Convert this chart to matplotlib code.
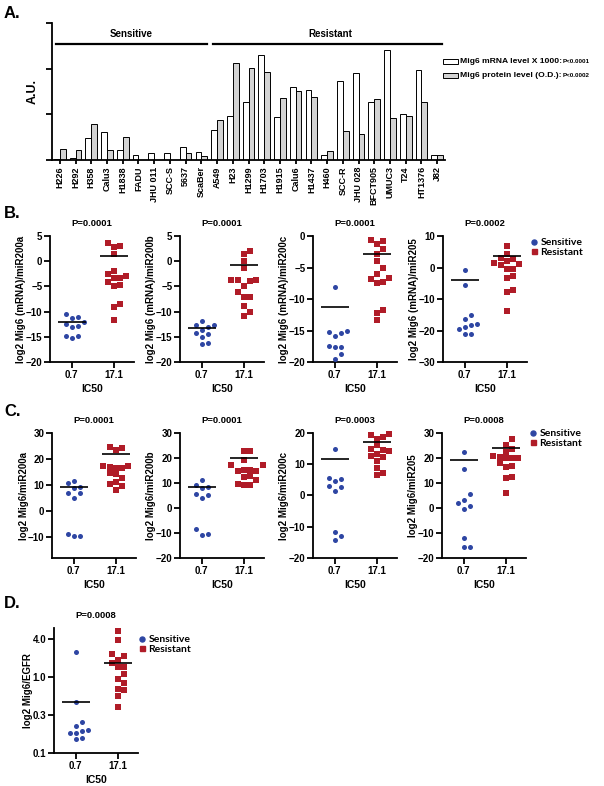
import numpy as np
import matplotlib
matplotlib.use("Agg")
import matplotlib.pyplot as plt
from matplotlib.patches import Rectangle
from matplotlib.lines import Line2D

plt.rcParams['font.family'] = ['Liberation Sans', 'DejaVu Sans']
plt.rcParams['font.weight'] = 'bold'
plt.rcParams['axes.titleweight'] = 'bold'
plt.rcParams['axes.labelweight'] = 'bold'

# ---------------- data ----------------
cell_lines = ['H226', 'H292', 'H358', 'Calu3', 'H1838', 'FADU', 'JHU 011', 'SCC-S', '5637', 'ScaBer',
              'A549', 'H23', 'H1299', 'H1703', 'H1915', 'Calu6', 'H1437', 'H460', 'SCC-R', 'JHU 028',
              'BFCT905', 'UMUC3', 'T24', 'HT1376', 'J82']
mrna = [0.02, 0.04, 0.48, 0.61, 0.22, 0.11, 0.15, 0.16, 0.28, 0.18,
        0.65, 0.96, 1.27, 2.31, 0.94, 1.59, 1.53, 0.12, 1.73, 1.90,
        1.26, 2.41, 1.00, 1.96, 0.12]
protein = [0.25, 0.22, 0.79, 0.22, 0.50, 0.0, 0.0, 0.0, 0.15, 0.09,
           0.88, 2.13, 2.02, 1.93, 1.35, 1.51, 1.38, 0.19, 0.64, 0.58,
           1.33, 0.92, 0.97, 1.27, 0.11]

groups = ['0.7', '17.1']

b_sens = [
    [-10.4, -11.1, -11.3, -12.1, -12.5, -12.9, -13.1, -14.8, -14.8, -15.2],
    [-11.9, -12.6, -12.6, -13.1, -13.6, -14.3, -14.5, -15.0, -16.2, -16.4],
    [-8.1, -15.1, -15.3, -15.4, -15.9, -17.4, -17.6, -17.6, -18.7, -19.6],
    [-0.9, -5.7, -15.0, -16.5, -18.0, -18.1, -18.9, -19.6, -21.2, -21.2],
]
b_res = [
    [3.6, 2.95, 2.8, 1.5, -2.0, -2.5, -2.9, -3.3, -3.3, -4.1, -4.8, -4.9, -8.4, -9.1, -11.6],
    [1.96, 1.5, 0.0, -1.35, -3.7, -3.8, -3.8, -4.0, -4.9, -6.2, -7.1, -7.1, -8.8, -10.1, -10.9],
    [-0.7, -0.85, -1.3, -2.0, -2.8, -3.9, -5.0, -6.0, -6.6, -6.8, -7.35, -7.5, -11.7, -12.2, -13.3],
    [6.8, 4.2, 3.0, 2.6, 2.2, 1.4, 0.7, -0.5, -0.5, -2.7, -3.2, -7.2, -7.8, -13.9, 1.0],
]
b_lines = [(-12.1, 1.0), (-13.3, -0.8), (-11.3, -2.8), (-4.1, 3.6)]
b_pvals = ['P=0.0001', 'P=0.0001', 'P=0.0001', 'P=0.0002']
b_ylabels = ['log2 Mig6 (mRNA)/miR200a', 'log2 Mig6 (mRNA)/miR200b',
             'log2 Mig6 (mRNA)/miR200c', 'log2 Mig6 (mRNA)/miR205']
b_ylims = [(-20, 5), (-20, 5), (-20, 0), (-30, 10)]
b_yticks = [[5, 0, -5, -10, -15, -20], [5, 0, -5, -10, -15, -20],
            [0, -5, -10, -15, -20], [10, 0, -10, -20, -30]]

c_sens = [
    [11.5, 10.7, 9.4, 9.0, 7.1, 6.9, 5.0, -8.7, -9.4, -9.4],
    [11.2, 9.2, 8.5, 8.0, 5.6, 5.3, 3.9, -8.4, -10.5, -10.7],
    [14.8, 5.7, 5.2, 4.5, 3.1, 2.6, 1.3, -11.6, -13.1, -14.1],
    [22.2, 15.4, 5.4, 3.3, 1.8, 0.6, -0.4, -12.1, -15.4, -15.4],
]
c_res = [
    [24.5, 24.3, 23.3, 17.3, 17.3, 17.0, 16.7, 16.4, 14.5, 14.1, 12.8, 11.2, 10.5, 9.7, 8.2],
    [22.6, 22.6, 19.3, 17.3, 17.1, 15.3, 15.0, 14.9, 14.8, 12.6, 12.4, 11.0, 9.4, 9.2, 9.0],
    [19.6, 19.4, 18.8, 18.2, 16.0, 14.8, 14.5, 14.3, 13.2, 12.7, 12.3, 10.9, 8.7, 7.3, 6.5],
    [27.5, 25.2, 23.5, 22.5, 20.9, 20.5, 19.9, 19.8, 19.8, 17.8, 16.9, 16.5, 12.3, 11.9, 5.9],
]
c_lines = [(9.3, 22.0), (8.5, 19.8), (11.8, 17.2), (19.0, 23.9)]
c_pvals = ['P=0.0001', 'P=0.0001', 'P=0.0003', 'P=0.0008']
c_ylabels = ['log2 Mig6/miR200a', 'log2 Mig6/miR200b', 'log2 Mig6/miR200c', 'log2 Mig6/miR205']
c_ylims = [(-18, 30), (-20, 30), (-20, 20), (-20, 30)]
c_yticks = [[30, 20, 10, 0, -10], [30, 20, 10, 0, -10, -20],
            [20, 10, 0, -10, -20], [30, 20, 10, 0, -10, -20]]

d_sens = [2.11, 0.469, 0.258, 0.227, 0.203, 0.197, 0.183, 0.183, 0.159, 0.151]
d_res = [4.03, 3.04, 1.97, 1.89, 1.66, 1.53, 1.35, 1.35, 1.09, 0.94, 0.83, 0.70, 0.67, 0.56, 0.40]
d_lines = (0.469, 1.53)
d_ticks = [0.1, 10 ** -0.5, 1.0, 10 ** 0.5]
d_ticklabels = ['0.1', '0.3', '1.0', '4.0']

BLUE = '#2e46a3'
RED = '#b01c28'
W, H = 604, 786

fig = plt.figure(figsize=(W / 100, H / 100), dpi=100)


def ax_px(x0, top, w, h):
    return fig.add_axes([x0 / W, 1 - (top + h) / H, w / W, h / H])


def style(ax):
    for s in ['top', 'right']:
        ax.spines[s].set_visible(False)
    for s in ['left', 'bottom']:
        ax.spines[s].set_linewidth(1.3)
    ax.tick_params(width=1.3, length=4, labelsize=7, pad=1.5)
    for t in ax.get_xticklabels() + ax.get_yticklabels():
        t.set_fontweight('bold')


def swarm(ax, x0, vals, d=6.3):
    ys = ax.transData.transform(np.column_stack([np.zeros(len(vals)), vals]))[:, 1]
    order = np.argsort(ys)
    placed = []
    offs = np.zeros(len(vals))
    for i in order:
        y = ys[i]
        for k in [0, 1, -1, 2, -2, 3, -3, 4, -4]:
            xo = k * d
            if all((xo - px) ** 2 + (y - py) ** 2 >= d ** 2 for px, py in placed):
                break
        placed.append((xo, y))
        offs[i] = xo
    scale = ax.transData.transform((1, 0))[0] - ax.transData.transform((0, 0))[0]
    return x0 + offs / scale


def dot_panel(ax, sens, res, lines, ylim, yticks, ylabel, pval, log=False):
    if log:
        ax.set_yscale('log')
    ax.set_xlim(-0.52, 1.48)
    ax.set_ylim(*ylim)
    ax.scatter(swarm(ax, 0, sens), sens, s=13, marker='o', color=BLUE, lw=0, zorder=3, clip_on=False)
    ax.scatter(swarm(ax, 1, res), res, s=15, marker='s', color=RED, lw=0, zorder=3, clip_on=False)
    ax.hlines(lines, [-0.34, 0.66], [0.34, 1.34], color='black', lw=1.2, zorder=4)
    ax.set_xticks([0, 1])
    ax.set_xticklabels(groups)
    ax.set_yticks(yticks)
    ax.set_xlabel('IC50', fontsize=7.5, labelpad=3, fontweight='bold')
    ax.set_ylabel(ylabel, fontsize=7, labelpad=-0.5, fontweight='bold')
    ax.set_title(pval, fontsize=6.8, pad=7, fontweight='bold')
    style(ax)


def group_legend(ax, x, y):
    h = [Line2D([], [], marker='o', color=BLUE, ls='', markersize=3.6),
         Line2D([], [], marker='s', color=RED, ls='', markersize=3.6)]
    ax.legend(h, ['Sensitive', 'Resistant'], loc='upper left', bbox_to_anchor=(x / W, 1 - y / H),
              bbox_transform=fig.transFigure, frameon=False, handlelength=0.6, handletextpad=0.3,
              labelspacing=0.05, borderpad=0, borderaxespad=0,
              prop={'family': 'Lato', 'size': 7.5, 'weight': 'bold'})


# ---------------- panel A ----------------
axA = ax_px(52, 23, 393, 137)
x = np.arange(len(cell_lines))
bw = 0.37
axA.bar(x - bw / 2, mrna, bw, color='white', edgecolor='black', lw=0.7)
axA.bar(x + bw / 2, protein, bw, color='#d3d3d3', edgecolor='black', lw=0.7)
axA.set_xlim(-0.5, len(cell_lines) - 0.5)
axA.set_ylim(0, 3)
axA.set_yticks([0, 1, 2, 3])
axA.set_yticklabels([])
axA.set_xticks(x)
axA.set_xticklabels(cell_lines, rotation=90, fontsize=6.5)
style(axA)
axA.tick_params(axis='x', length=3, labelsize=6.5)
axA.set_ylabel('A.U.', fontsize=9, labelpad=4, fontweight='bold')
axA.plot([-0.25, 9.37], [2.54, 2.54], color='black', lw=1.6, clip_on=False)
axA.plot([9.75, 24.3], [2.54, 2.54], color='black', lw=1.6, clip_on=False)
axA.text(4.55, 2.64, 'Sensitive', ha='center', va='bottom', fontsize=7, fontweight='bold')
axA.text(17.2, 2.64, 'Resistant', ha='center', va='bottom', fontsize=7, fontweight='bold')

for (top, face, lab, pv) in [(59, 'white', 'Mig6 mRNA level X 1000:', 'P<0.0001'),
                             (73, '#d3d3d3', 'Mig6 protein level (O.D.):', 'P<0.0002')]:
    fig.patches.append(Rectangle((443 / W, 1 - (top + 5) / H), 15 / W, 5 / H, facecolor=face,
                                 edgecolor='black', lw=0.7, transform=fig.transFigure))
    fig.text(460 / W, 1 - (top + 2.5) / H, lab, fontsize=6.1, va='center', ha='left',
             fontweight='bold')
    fig.text(563 / W, 1 - (top + 2.5) / H, pv, fontsize=4.5, va='center', ha='left',
             fontweight='bold')

# ---------------- panel B ----------------
b_left = [50, 180, 313, 443]
for i in range(4):
    ax = ax_px(b_left[i], 236, 84, 126)
    dot_panel(ax, b_sens[i], b_res[i], b_lines[i], b_ylims[i], b_yticks[i], b_ylabels[i], b_pvals[i])
group_legend(ax, 531, 238)

# ---------------- panel C ----------------
c_left = [52, 180, 313, 442]
for i in range(4):
    ax = ax_px(c_left[i], 433, 84, 125)
    dot_panel(ax, c_sens[i], c_res[i], c_lines[i], c_ylims[i], c_yticks[i], c_ylabels[i], c_pvals[i])
group_legend(ax, 530, 429)

# ---------------- panel D ----------------
axD = ax_px(54, 628, 84, 125)
dot_panel(axD, d_sens, d_res, d_lines, (0.1, 4.37), d_ticks, 'log2 Mig6/EGFR', 'P=0.0008', log=True)
axD.set_yticks(d_ticks)
axD.set_yticklabels(d_ticklabels)
axD.minorticks_off()
style(axD)
group_legend(axD, 139, 635)

# panel letters
for lab, y in [('A.', 13), ('B.', 213), ('C.', 412), ('D.', 603)]:
    fig.text(4 / W, 1 - y / H, lab, fontsize=12, va='center', ha='left', fontweight='bold')

fig.savefig('out.png', dpi=100)
